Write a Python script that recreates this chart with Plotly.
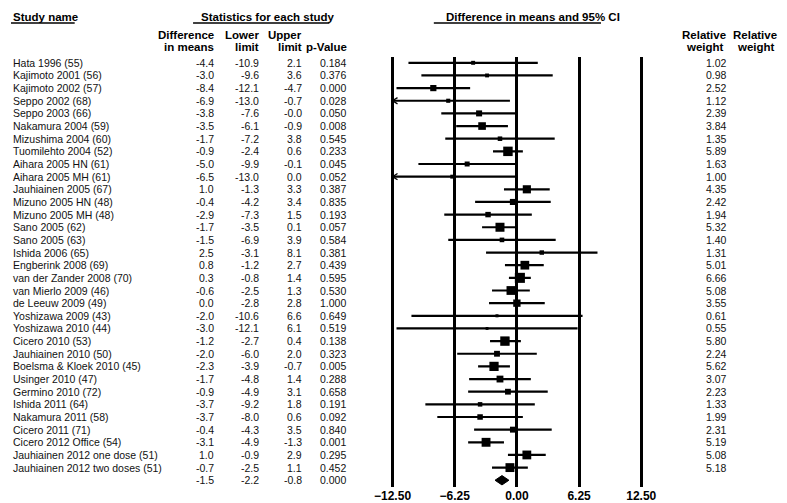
import plotly.graph_objects as go

# ---------------- data ----------------
study_names = [
    "Hata 1996 (55)", "Kajimoto 2001 (56)", "Kajimoto 2002 (57)", "Seppo 2002 (68)",
    "Seppo 2003 (66)", "Nakamura 2004 (59)", "Mizushima 2004 (60)", "Tuomilehto 2004 (52)",
    "Aihara 2005 HN (61)", "Aihara 2005 MH (61)", "Jauhiainen 2005 (67)", "Mizuno 2005 HN (48)",
    "Mizuno 2005 MH (48)", "Sano 2005 (62)", "Sano 2005 (63)", "Ishida 2006 (65)",
    "Engberink 2008 (69)", "van der Zander 2008 (70)", "van Mierlo 2009 (46)", "de Leeuw 2009 (49)",
    "Yoshizawa 2009 (43)", "Yoshizawa 2010 (44)", "Cicero 2010 (53)", "Jauhiainen 2010 (50)",
    "Boelsma & Kloek 2010 (45)", "Usinger 2010 (47)", "Germino 2010 (72)", "Ishida 2011 (64)",
    "Nakamura 2011 (58)", "Cicero 2011 (71)", "Cicero 2012 Office (54)",
    "Jauhiainen 2012 one dose (51)", "Jauhiainen 2012 two doses (51)",
]
diff_means = [-4.4, -3.0, -8.4, -6.9, -3.8, -3.5, -1.7, -0.9, -5.0, -6.5, 1.0, -0.4, -2.9,
              -1.7, -1.5, 2.5, 0.8, 0.3, -0.6, 0.0, -2.0, -3.0, -1.2, -2.0, -2.3, -1.7,
              -0.9, -3.7, -3.7, -0.4, -3.1, 1.0, -0.7]
lower_limit = [-10.9, -9.6, -12.1, -13.0, -7.6, -6.1, -7.2, -2.4, -9.9, -13.0, -1.3, -4.2, -7.3,
               -3.5, -6.9, -3.1, -1.2, -0.8, -2.5, -2.8, -10.6, -12.1, -2.7, -6.0, -3.9, -4.8,
               -4.9, -9.2, -8.0, -4.3, -4.9, -0.9, -2.5]
upper_limit = [2.1, 3.6, -4.7, -0.7, -0.0, -0.9, 3.8, 0.6, -0.1, 0.0, 3.3, 3.4, 1.5,
               0.1, 3.9, 8.1, 2.7, 1.4, 1.3, 2.8, 6.6, 6.1, 0.4, 2.0, -0.7, 1.4,
               3.1, 1.8, 0.6, 3.5, -1.3, 2.9, 1.1]
p_values = [0.184, 0.376, 0.000, 0.028, 0.050, 0.008, 0.545, 0.233, 0.045, 0.052, 0.387, 0.835,
            0.193, 0.057, 0.584, 0.381, 0.439, 0.595, 0.530, 1.000, 0.649, 0.519, 0.138, 0.323,
            0.005, 0.288, 0.658, 0.191, 0.092, 0.840, 0.001, 0.295, 0.452]
rel_weight = [1.02, 0.98, 2.52, 1.12, 2.39, 3.84, 1.35, 5.89, 1.63, 1.00, 4.35, 2.42, 1.94,
              5.32, 1.40, 1.31, 5.01, 6.66, 5.08, 3.55, 0.61, 0.55, 5.80, 2.24, 5.62, 3.07,
              2.23, 1.33, 1.99, 2.31, 5.19, 5.08, 5.18]
summary_mean = -1.5
summary_lower = -2.2
summary_upper = -0.8
summary_p = 0.000

tick_values = [-12.5, -6.25, 0.0, 6.25, 12.5]
axis_min, axis_max = -12.5, 12.5

# ---------------- geometry helpers (page pixels; page body has an 8px margin) ----------------
OFF = 8
W, H = 787 - OFF, 503 - OFF
ROW0, ROWSTEP = 62.8, 12.65
PLOT_TOP, PLOT_BOT = 57, 487
n = len(study_names)
rows = list(range(n))
sum_row = n


def pxx(X):
    return (X - OFF) / W


def pxy(Y):
    return 1 - (Y - OFF) / H


def px2row(Y):
    return (Y - ROW0) / ROWSTEP


FONT = "Liberation Sans, Arial, sans-serif"
BODY = dict(family=FONT, size=10.5, color="#111")
HEAD = dict(family=FONT, size=11.5, color="#000", weight="bold")

fig = go.Figure()

# CI lines (clipped at axis limits) and arrows for truncated intervals
cx, cy = [], []
ax_, ay_ = [], []
for i in rows:
    lo = max(lower_limit[i], axis_min)
    hi = min(upper_limit[i], axis_max)
    cx += [lo, hi, None]
    cy += [i, i, None]
    if lower_limit[i] < axis_min:
        ax_ += [axis_min + 0.5, axis_min, axis_min + 0.5, None]
        ay_ += [i - 0.25, i, i + 0.25, None]
fig.add_trace(go.Scatter(x=cx, y=cy, mode="lines", opacity=1,
                         line=dict(color="black", width=2.2),
                         hoverinfo="skip", showlegend=False))
fig.add_trace(go.Scatter(x=ax_, y=ay_, mode="lines", opacity=1,
                         line=dict(color="black", width=1.3),
                         hoverinfo="skip", showlegend=False))

# study boxes, area proportional to weight
fig.add_trace(go.Scatter(
    x=diff_means, y=rows, mode="markers", opacity=1,
    marker=dict(symbol="square", color="black", opacity=1,
                size=[3.9 * w ** 0.5 for w in rel_weight], line=dict(width=0)),
    showlegend=False, cliponaxis=False, hoverinfo="skip"))

# summary diamond
fig.add_trace(go.Scatter(
    x=[summary_lower, summary_mean, summary_upper, summary_mean, summary_lower],
    y=[sum_row, sum_row - 0.37, sum_row, sum_row + 0.37, sum_row],
    mode="lines", fill="toself", fillcolor="black", line=dict(color="black", width=1),
    showlegend=False, hoverinfo="skip"))

# ---------------- table text ----------------
ann = []


def fmt1(v):
    return f"{v:.1f}"


for i in rows:
    ann.append(dict(x=pxx(7), y=i, text=study_names[i], xanchor="left"))
    ann.append(dict(x=pxx(213.5), y=i, text=fmt1(diff_means[i]), xanchor="right"))
    ann.append(dict(x=pxx(258), y=i, text=fmt1(lower_limit[i]), xanchor="right"))
    ann.append(dict(x=pxx(302), y=i, text=fmt1(upper_limit[i]), xanchor="right"))
    ann.append(dict(x=pxx(346), y=i, text=f"{p_values[i]:.3f}", xanchor="right"))
    ann.append(dict(x=pxx(729), y=i, text=f"{rel_weight[i]:.2f}", xanchor="right"))
ann.append(dict(x=pxx(213.5), y=sum_row, text=fmt1(summary_mean), xanchor="right"))
ann.append(dict(x=pxx(258), y=sum_row, text=fmt1(summary_lower), xanchor="right"))
ann.append(dict(x=pxx(302), y=sum_row, text=fmt1(summary_upper), xanchor="right"))
ann.append(dict(x=pxx(346), y=sum_row, text=f"{summary_p:.3f}", xanchor="right"))
for a in ann:
    a.update(xref="paper", yref="y", yanchor="middle", showarrow=False, font=BODY)

heads = [
    ("Study name", 7, 17, "left"),
    ("Statistics for each study", 265, 17, "center"),
    ("Difference in means and 95% CI", 532, 17, "center"),
    ("Difference", 213.5, 35, "right"), ("in means", 213.5, 47, "right"),
    ("Lower", 258, 35, "right"), ("limit", 258, 47, "right"),
    ("Upper", 302, 35, "right"), ("limit", 302, 47, "right"),
    ("p-Value", 347, 47, "right"),
    ("Relative", 728, 35, "right"), ("weight", 726, 47, "right"),
    ("Relative", 779, 35, "right"), ("weight", 777, 47, "right"),
]
for t, x, y, xa in heads:
    ann.append(dict(x=pxx(x), y=pxy(y), xref="paper", yref="paper", text=t, xanchor=xa,
                    yanchor="middle", showarrow=False, font=HEAD))

shapes = []
for x0, x1 in [(7, 71), (190, 327), (432, 600)]:
    shapes.append(dict(type="line", xref="paper", yref="paper", x0=pxx(x0), x1=pxx(x1),
                       y0=pxy(23), y1=pxy(23), line=dict(color="black", width=1.3)))

# ---------------- axes ----------------
x_lo = -14.0
x_hi = 14.0
zero_px = 515.5
ppu = 10.0
fig.update_layout(
    width=W, height=H, margin=dict(l=0, r=0, t=0, b=0),
    paper_bgcolor="white", plot_bgcolor="white",
    xaxis=dict(range=[x_lo, x_hi],
               domain=[pxx(zero_px + x_lo * ppu), pxx(zero_px + x_hi * ppu)],
               tickvals=tick_values, tickformat=".2f", ticks="", showline=False,
               zeroline=False, showgrid=True, gridcolor="black", gridwidth=3,
               tickfont=dict(family=FONT, size=12, color="black", weight="bold"),
               fixedrange=True),
    yaxis=dict(range=[px2row(PLOT_BOT), px2row(PLOT_TOP)],
               domain=[pxy(PLOT_BOT), pxy(PLOT_TOP)],
               showgrid=False, zeroline=False, showticklabels=False, showline=False,
               ticks="", fixedrange=True),
    annotations=ann, shapes=shapes,
)

fig.write_html("out.html")
